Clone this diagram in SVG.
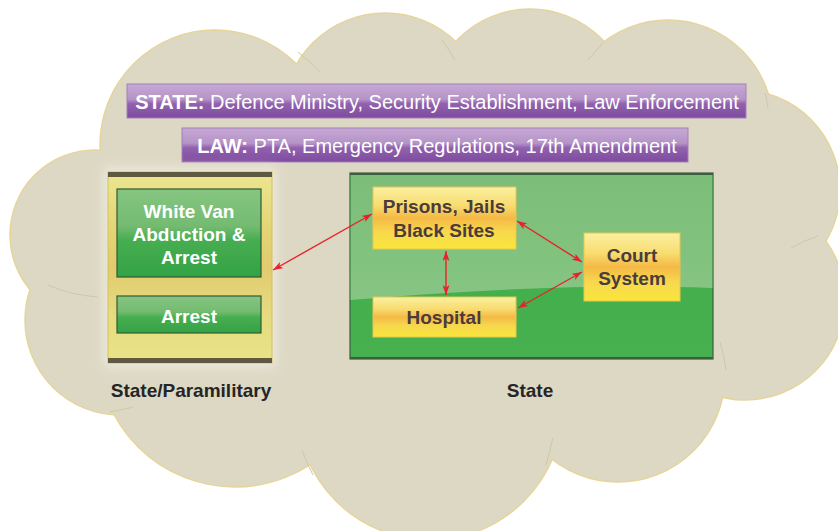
<svg xmlns="http://www.w3.org/2000/svg" width="838" height="531" viewBox="0 0 838 531">
<defs>
<style>
.cl{fill:#ddd8c4;stroke:#e6d49a;stroke-width:1.5}
.cf{fill:#ddd8c4}
.ban{fill:url(#gPurple);stroke:#a47fbd;stroke-width:1}
.bt{font-family:"Liberation Sans",Arial,sans-serif;font-size:20px;fill:#ffffff}
.gb{fill:url(#gGreen);stroke:#2f5c33;stroke-width:1.2}
.yb{fill:url(#gYellow);stroke:#e9c54e;stroke-width:1}
.wt{font-family:"Liberation Sans",Arial,sans-serif;font-weight:bold;font-size:19px;fill:#ffffff;text-anchor:middle}
.dt{font-family:"Liberation Sans",Arial,sans-serif;font-weight:bold;font-size:19px;fill:#4b3b3a;text-anchor:middle}
.lb{font-family:"Liberation Sans",Arial,sans-serif;font-weight:bold;font-size:19px;fill:#252525;text-anchor:middle}
.ar{stroke:#e8222b;stroke-width:1.4;fill:none;marker-start:url(#ah);marker-end:url(#ah)}
</style>
<linearGradient id="gPurple" x1="0" y1="0" x2="0" y2="1">
<stop offset="0" stop-color="#c6a9d4"/>
<stop offset="0.45" stop-color="#b593c8"/>
<stop offset="0.58" stop-color="#9262ae"/>
<stop offset="1" stop-color="#7e4a9f"/>
</linearGradient>
<linearGradient id="gGreen" x1="0" y1="0" x2="0" y2="1">
<stop offset="0" stop-color="#86c582"/>
<stop offset="0.42" stop-color="#74bb71"/>
<stop offset="0.58" stop-color="#47ae50"/>
<stop offset="1" stop-color="#33a246"/>
</linearGradient>
<linearGradient id="gYellow" x1="0" y1="0" x2="0" y2="1">
<stop offset="0" stop-color="#fbf0a0"/>
<stop offset="0.3" stop-color="#f8dc70"/>
<stop offset="0.5" stop-color="#f4b945"/>
<stop offset="0.72" stop-color="#f7d84e"/>
<stop offset="1" stop-color="#f9e63a"/>
</linearGradient>
<linearGradient id="gCont" x1="0" y1="0" x2="0" y2="1">
<stop offset="0" stop-color="#ece791"/>
<stop offset="0.3" stop-color="#e4d475"/>
<stop offset="0.5" stop-color="#e1cb6e"/>
<stop offset="0.72" stop-color="#e5da7e"/>
<stop offset="1" stop-color="#e9e388"/>
</linearGradient>
<linearGradient id="gBigLight" x1="0" y1="0" x2="0" y2="1">
<stop offset="0" stop-color="#7bbd79"/>
<stop offset="1" stop-color="#86c583"/>
</linearGradient>
<linearGradient id="gBigDark" x1="0" y1="0" x2="0" y2="1">
<stop offset="0" stop-color="#3dab4a"/>
<stop offset="1" stop-color="#48b14f"/>
</linearGradient>
<filter id="glow" x="-20%" y="-20%" width="140%" height="140%">
<feGaussianBlur stdDeviation="6"/>
</filter>
<marker id="ah" viewBox="0 0 10 7" refX="10" refY="3.5" markerWidth="10" markerHeight="7" markerUnits="userSpaceOnUse" orient="auto-start-reverse">
<path d="M0,0 L10,3.5 L0,7 L2.5,3.5 z" fill="#e8222b"/>
</marker>
</defs>

<g id="cloud">
<circle class="cl" cx="215" cy="145" r="115"/>
<circle class="cl" cx="385" cy="115" r="102"/>
<circle class="cl" cx="530" cy="110" r="101"/>
<circle class="cl" cx="668" cy="125" r="105"/>
<circle class="cl" cx="740" cy="190" r="100"/>
<circle class="cl" cx="745" cy="300" r="100"/>
<circle class="cl" cx="618" cy="375" r="107"/>
<circle class="cl" cx="430" cy="407" r="133"/>
<circle class="cl" cx="235" cy="350" r="137"/>
<circle class="cl" cx="95" cy="235" r="85"/>
<circle class="cl" cx="120" cy="320" r="95"/>
<circle class="cf" cx="215" cy="145" r="114"/>
<circle class="cf" cx="385" cy="115" r="101"/>
<circle class="cf" cx="530" cy="110" r="100"/>
<circle class="cf" cx="668" cy="125" r="104"/>
<circle class="cf" cx="740" cy="190" r="99"/>
<circle class="cf" cx="745" cy="300" r="99"/>
<circle class="cf" cx="618" cy="375" r="106"/>
<circle class="cf" cx="430" cy="407" r="132"/>
<circle class="cf" cx="235" cy="350" r="136"/>
<circle class="cf" cx="95" cy="235" r="84"/>
<circle class="cf" cx="120" cy="320" r="94"/>
<rect class="cf" x="120" y="110" width="580" height="290"/>
<g fill="none" stroke="#cfc7aa" stroke-width="1">
<path d="M298,52 Q310,62 320,72"/>
<path d="M455,60 Q448,48 442,40"/>
<path d="M603,43 Q595,52 588,60"/>
<path d="M765,93 Q767,100 768,108"/>
<path d="M48,285 Q70,295 98,297"/>
<path d="M110,412 Q122,410 133,407"/>
<path d="M302,450 Q306,462 313,475"/>
<path d="M553,438 Q550,450 546,465"/>
<path d="M720,342 Q724,355 726,370"/>
<path d="M791,248 Q805,240 818,236"/>
</g>
</g>

<g id="state-banner">
<rect class="ban" x="127" y="84" width="619" height="34"/>
<text class="bt" x="437" y="109" text-anchor="middle"><tspan font-weight="bold">STATE:</tspan> Defence Ministry, Security Establishment, Law Enforcement</text>
</g>

<g id="law-banner">
<rect class="ban" x="182" y="128" width="506" height="34"/>
<text class="bt" x="437" y="153" text-anchor="middle"><tspan font-weight="bold">LAW:</tspan> PTA, Emergency Regulations, 17th Amendment</text>
</g>

<g id="paramilitary-container">
<rect x="104" y="168" width="172" height="199" fill="#f2efe2" opacity="0.8" filter="url(#glow)"/>
<rect x="108" y="172" width="164" height="191" fill="url(#gCont)" stroke="#d6bf5e" stroke-width="1"/>
<rect x="108" y="172" width="164" height="5" fill="#5f5942"/>
<rect x="108" y="358" width="164" height="5" fill="#5f5942"/>
<text class="lb" x="191" y="397">State/Paramilitary</text>
</g>

<g id="white-van">
<rect class="gb" x="117" y="189" width="144" height="88"/>
<text class="wt" x="189" y="218">White Van</text>
<text class="wt" x="189" y="241">Abduction &amp;</text>
<text class="wt" x="189" y="264">Arrest</text>
</g>

<g id="arrest">
<rect class="gb" x="117" y="296" width="144" height="37"/>
<text class="wt" x="189" y="323">Arrest</text>
</g>

<g id="state-container">
<rect x="350" y="173" width="363" height="186" fill="url(#gBigDark)" stroke="#3a5e3c" stroke-width="1.2"/>
<path d="M350.6,173.6 H712.4 V288 Q560,282 350.6,300 Z" fill="url(#gBigLight)"/>
<rect x="350" y="173" width="363" height="2" fill="#3d5f3f"/>
<rect x="350" y="357" width="363" height="2" fill="#3d5f3f"/>
<text class="lb" x="530" y="397">State</text>
</g>

<g id="prisons">
<rect class="yb" x="373" y="187" width="143" height="62"/>
<text class="dt" x="444" y="213">Prisons, Jails</text>
<text class="dt" x="444" y="237">Black Sites</text>
</g>

<g id="hospital">
<rect class="yb" x="373" y="297" width="143" height="40"/>
<text class="dt" x="444" y="324">Hospital</text>
</g>

<g id="court">
<rect class="yb" x="584" y="233" width="96" height="68"/>
<text class="dt" x="632" y="262">Court</text>
<text class="dt" x="632" y="285">System</text>
</g>

<g id="connectors">
<line class="ar" x1="273" y1="270" x2="372" y2="214"/>
<line class="ar" x1="517" y1="221" x2="582" y2="262"/>
<line class="ar" x1="446" y1="251" x2="446" y2="295"/>
<line class="ar" x1="518" y1="308" x2="582" y2="272"/>
</g>
</svg>
